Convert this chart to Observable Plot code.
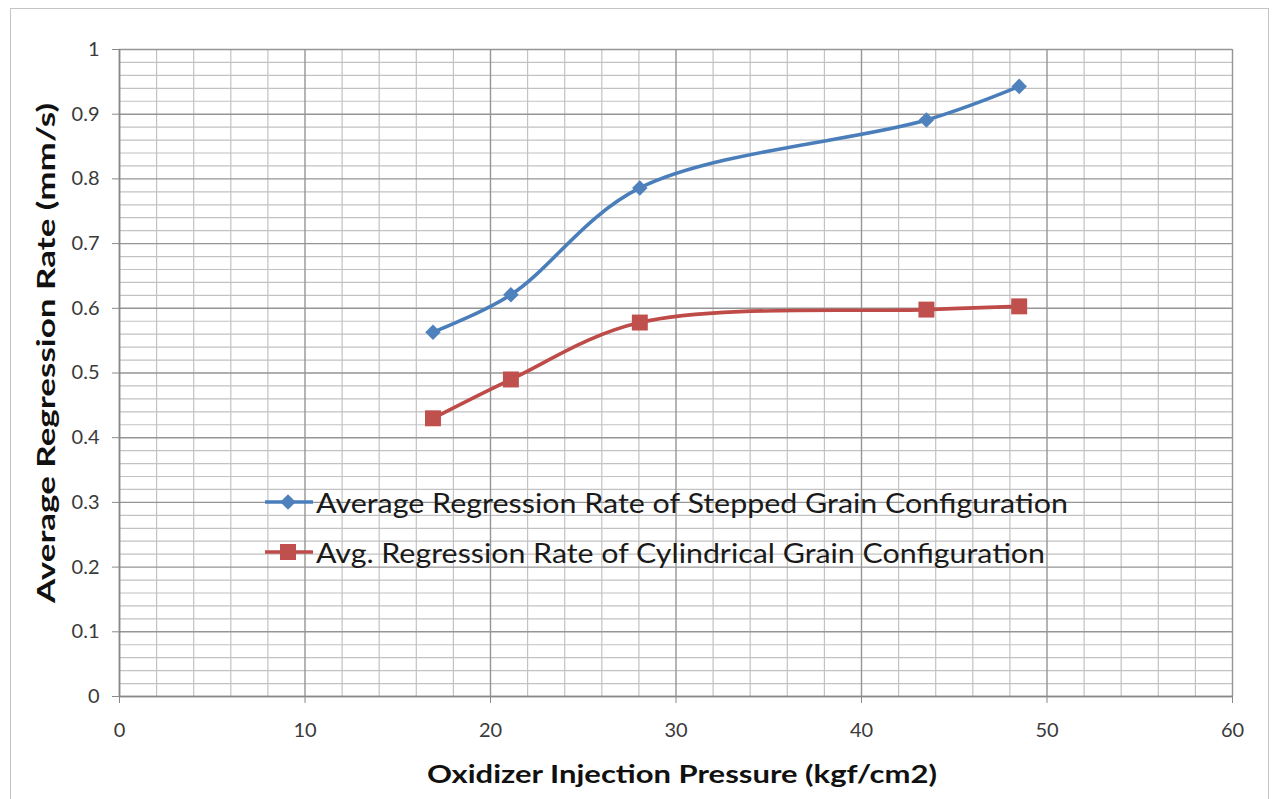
<!DOCTYPE html>
<html><head><meta charset="utf-8">
<script src="https://cdn.jsdelivr.net/npm/d3@7"></script>
<script src="https://cdn.jsdelivr.net/npm/@observablehq/plot@0.6"></script>
<style>
html,body{margin:0;padding:0;background:#fff;}
#wrap{position:relative;width:1279px;height:799px;overflow:hidden;background:#fff;}
#frame{position:absolute;left:10px;top:8px;width:1259px;height:830px;border:1.5px solid #c4c4c4;box-sizing:border-box;pointer-events:none;}
#chart{position:absolute;left:0;top:0;}
</style></head><body>
<div id="wrap"><div id="chart"></div><div id="frame"></div></div>
<script>
// ---- data ----
const pressure = [16.9, 21.1, 28.05, 43.5, 48.5];
const steppedRate = [0.563, 0.621, 0.786, 0.891, 0.943];
const cylindricalRate = [0.430, 0.490, 0.578, 0.598, 0.603];
const seriesNames = [
  "Average Regression Rate of Stepped Grain Configuration",
  "Avg. Regression Rate of Cylindrical Grain Configuration"
];
const xTicks = [0, 10, 20, 30, 40, 50, 60];
const yTicks = [0, 0.1, 0.2, 0.3, 0.4, 0.5, 0.6, 0.7, 0.8, 0.9, 1];
const xTitle = "Oxidizer Injection Pressure (kgf/cm2)";
const yTitle = "Average Regression Rate (mm/s)";

const stepped = pressure.map((p, i) => ({p, r: steppedRate[i]}));
const cylindrical = pressure.map((p, i) => ({p, r: cylindricalRate[i]}));
const minorX = d3.range(0, 61, 2).filter(v => v % 10 !== 0);
const minorY = d3.range(0, 51).map(i => i / 50).filter((v, i) => i % 5 !== 0);

const blueLine = "#4a7ebb", blueMark = "#4f81bd";
const redLine = "#be4b48", redMark = "#c0504d";

const svg = Plot.plot({
  width: 1279,
  height: 799,
  marginLeft: 119,
  marginRight: 47,
  marginTop: 49,
  marginBottom: 103,
  style: {fontFamily: "Lato, 'Open Sans', sans-serif", background: "transparent"},
  x: {domain: [0, 60]},
  y: {domain: [0, 1]},
  marks: [
    Plot.ruleX(minorX, {stroke: "#c2c2c2", strokeWidth: 1.2}),
    Plot.ruleY(minorY, {stroke: "#c2c2c2", strokeWidth: 1.2}),
    Plot.ruleX(xTicks, {stroke: "#959595", strokeWidth: 1.4}),
    Plot.ruleY(yTicks, {stroke: "#959595", strokeWidth: 1.4}),
    Plot.ruleX([0], {stroke: "#888", strokeWidth: 1.6}),
    Plot.ruleY([0], {stroke: "#888", strokeWidth: 1.6}),
    Plot.axisX({ticks: xTicks, tickSize: 7, tickPadding: 19, fontSize: 20, stroke: "#888", fill: "#3a3a3a", label: null, tickFormat: d => String(d)}),
    Plot.axisY({ticks: yTicks, tickSize: 7, tickPadding: 13, fontSize: 20, stroke: "#888", fill: "#3a3a3a", label: null, tickFormat: d => String(+d.toFixed(1))}),
    Plot.line(stepped, {x: "p", y: "r", stroke: blueLine, strokeWidth: 3.6, curve: "catmull-rom"}),
    Plot.line(cylindrical, {x: "p", y: "r", stroke: redLine, strokeWidth: 3.6, curve: "catmull-rom"}),
    Plot.dot(stepped, {x: "p", y: "r", symbol: "square", rotate: 45, r: 6.2, fill: blueMark, stroke: "none"}),
    Plot.dot(cylindrical, {x: "p", y: "r", symbol: "square", r: 9, fill: redMark, stroke: "none"})
  ]
});
document.getElementById("chart").appendChild(svg);

const s = d3.select(svg);
// axis titles
s.append("text")
  .attr("transform", "translate(45,353) rotate(-90)")
  .attr("text-anchor", "middle").attr("dominant-baseline", "central")
  .attr("font-family", "Lato, sans-serif").attr("font-weight", "bold").attr("font-size", 25)
  .attr("fill", "#111").attr("textLength", 500).attr("lengthAdjust", "spacingAndGlyphs")
  .text(yTitle);
s.append("text")
  .attr("x", 682).attr("y", 773)
  .attr("text-anchor", "middle").attr("dominant-baseline", "central")
  .attr("font-family", "Lato, sans-serif").attr("font-weight", "bold").attr("font-size", 25)
  .attr("fill", "#111").attr("textLength", 510).attr("lengthAdjust", "spacingAndGlyphs")
  .text(xTitle);

// legend
const leg = s.append("g");
const legendRows = [
  {y: 502, color: blueLine, mark: blueMark, kind: "diamond", len: 752},
  {y: 552, color: redLine, mark: redMark, kind: "square", len: 729}
];
legendRows.forEach((row, i) => {
  leg.append("line").attr("x1", 265).attr("x2", 313).attr("y1", row.y).attr("y2", row.y)
    .attr("stroke", row.color).attr("stroke-width", 3.6);
  if (row.kind === "diamond") {
    leg.append("rect").attr("x", -5.5).attr("y", -5.5).attr("width", 11).attr("height", 11)
      .attr("transform", `translate(288,${row.y}) rotate(45)`).attr("fill", row.mark);
  } else {
    leg.append("rect").attr("x", 288 - 8).attr("y", row.y - 8).attr("width", 16).attr("height", 16)
      .attr("fill", row.mark);
  }
  leg.append("text").attr("x", 316).attr("y", row.y).attr("dominant-baseline", "central")
    .attr("text-anchor", "start")
    .attr("font-family", "Lato, sans-serif").attr("font-size", 27).attr("fill", "#1a1a1a")
    .attr("textLength", row.len).attr("lengthAdjust", "spacingAndGlyphs")
    .text(seriesNames[i]);
});
</script>
</body></html>
